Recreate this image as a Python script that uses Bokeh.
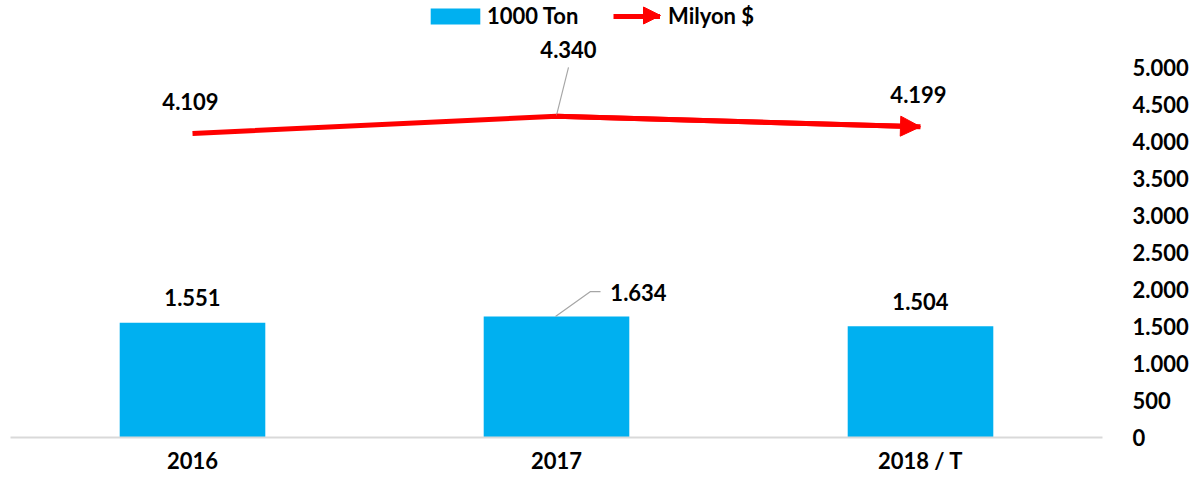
from bokeh.plotting import figure
from bokeh.models import (Range1d, FixedTicker, Legend, LegendItem, Arrow,
                          NormalHead)
from bokeh.core.properties import value
from bokeh.embed import file_html
from bokeh.resources import INLINE

# ---------------- data ----------------
categories = ["2016", "2017", "2018 / T"]
ton = [1551, 1634, 1504]          # 1000 Ton (bars)
usd = [4109, 4340, 4199]          # Milyon $ (line)
y_ticks = [0, 500, 1000, 1500, 2000, 2500, 3000, 3500, 4000, 4500, 5000]
series_names = ["1000 Ton", "Milyon $"]


def fmt(v):
    return f"{v:,}".replace(",", ".")


# ---------------- layout / style ----------------
W, H = 1194, 488
ML, MR, MT, MB = 10, 92, 0, 51
FW = W - ML - MR
FH = H - MT - MB
Y_END = 5905
PX_X = FW / len(categories)      # pixels per x unit
PX_Y = FH / Y_END                # pixels per y unit

FONT = value("Lato")
FS = "22px"
BLUE = "#00B0F0"
RED = "#FF0000"
GREY = "#A6A6A6"

# label offsets (pixels)
usd_dx = [-2, 12, -2]
usd_dy = [-32, -67, -32]
ton_dx = [0, 82, 0]
ton_dy = [-25, -24, -25]

xs = [i + 0.5 for i in range(len(categories))]

p = figure(width=W, height=H,
           x_range=Range1d(0, len(categories)), y_range=Range1d(0, Y_END),
           output_backend="svg", toolbar_location=None,
           y_axis_location="right",
           min_border_left=ML, min_border_right=MR,
           min_border_top=MT, min_border_bottom=MB)
p.outline_line_color = None
p.background_fill_color = "white"
p.border_fill_color = "white"
p.xgrid.visible = False
p.ygrid.visible = False

# bars
bar_r = p.vbar(x=xs, top=ton, width=0.4, fill_color=BLUE, line_color=None)

# line
line_r = p.line(x=xs, y=usd, line_color=RED, line_width=5, line_join="round")
p.add_layout(Arrow(end=NormalHead(size=20, fill_color=RED, line_color=RED),
                   x_start=xs[-2], y_start=usd[-2], x_end=xs[-1], y_end=usd[-1],
                   line_color=RED, line_width=5))

# data labels
p.text(x=xs, y=usd, text=[fmt(v) for v in usd], x_offset=usd_dx, y_offset=usd_dy,
       text_font=FONT, text_font_style="bold", text_font_size=FS,
       text_color="#000000", text_align="center", text_baseline="middle")
p.text(x=xs, y=ton, text=[fmt(v) for v in ton], x_offset=ton_dx, y_offset=ton_dy,
       text_font=FONT, text_font_style="bold", text_font_size=FS,
       text_color="#000000", text_align="center", text_baseline="middle")

# leader lines (2017 labels)
i = 1
lead_usd_x = [xs[i], xs[i] + 12 / PX_X]
lead_usd_y = [usd[i] + 1 / PX_Y, usd[i] + 49 / PX_Y]
p.line(x=lead_usd_x, y=lead_usd_y, line_color=GREY, line_width=1.2)
lead_ton_x = [xs[i] - 1 / PX_X, xs[i] + 34 / PX_X, xs[i] + 44 / PX_X]
lead_ton_y = [ton[i], ton[i] + 25 / PX_Y, ton[i] + 25 / PX_Y]
p.line(x=lead_ton_x, y=lead_ton_y, line_color=GREY, line_width=1.2)

# x axis
xa = p.xaxis[0]
xa.ticker = FixedTicker(ticks=xs)
xa.major_label_overrides = {x: c for x, c in zip(xs, categories)}
xa.axis_line_color = "#D9D9D9"
xa.axis_line_width = 2
xa.major_tick_line_color = None
xa.minor_tick_line_color = None
xa.major_label_standoff = 3
xa.major_label_text_font = "Lato"
xa.major_label_text_font_style = "bold"
xa.major_label_text_font_size = FS
xa.major_label_text_color = "#000000"

# right y axis
ya = p.yaxis[0]
ya.ticker = FixedTicker(ticks=y_ticks)
ya.major_label_overrides = {t: fmt(t) for t in y_ticks}
ya.axis_line_color = None
ya.major_tick_line_color = None
ya.minor_tick_line_color = None
ya.major_label_standoff = 24
ya.major_label_text_font = "Lato"
ya.major_label_text_font_style = "bold"
ya.major_label_text_font_size = FS
ya.major_label_text_color = "#000000"

# legends (one per series so the swatch sizes can differ)
common = dict(orientation="horizontal", padding=0, margin=0,
              border_line_color=None, background_fill_alpha=0,
              label_text_font="Lato", label_text_font_style="bold",
              label_text_font_size=FS, label_text_color="#000000")
legend_bar = Legend(items=[LegendItem(label=series_names[0], renderers=[bar_r])],
                    location=(414, FH - 29), glyph_width=62, glyph_height=20,
                    label_standoff=1, **common)
legend_line = Legend(items=[LegendItem(label=series_names[1], renderers=[line_r])],
                     location=(603, FH - 29), glyph_width=47, glyph_height=20,
                     label_standoff=8, **common)
p.add_layout(legend_bar)
p.add_layout(legend_line)
p.add_layout(Arrow(end=NormalHead(size=17, fill_color=RED, line_color=RED),
                   x_start=630, y_start=FH - 15, x_end=650, y_end=FH - 15,
                   start_units="screen", end_units="screen",
                   line_alpha=0))

open("out.html", "w").write(file_html(p, INLINE))
